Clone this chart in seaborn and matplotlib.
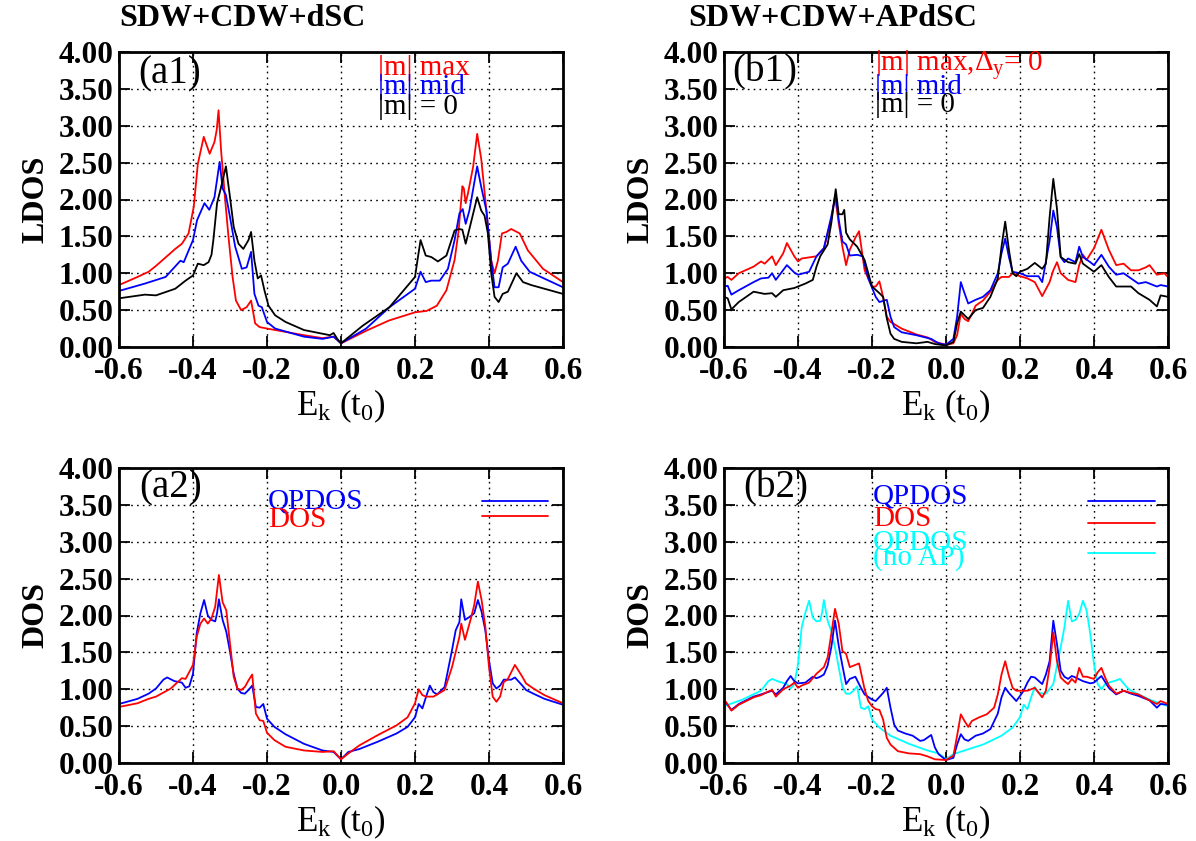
import numpy as np
import pandas as pd
import matplotlib
matplotlib.use("Agg")
import matplotlib.pyplot as plt
import seaborn as sns

# ---------------- data (E_k in t0, density of states) ----------------
a1_max = [(-0.6,0.84),(-0.55,0.95),(-0.52,1.02),(-0.5,1.10),(-0.448,1.33),(-0.43,1.40),(-0.412,1.54),
          (-0.398,1.90),(-0.387,2.48),(-0.371,2.85),(-0.355,2.62),(-0.342,2.78),(-0.336,2.94),(-0.331,3.21),
          (-0.324,2.66),(-0.313,1.99),(-0.304,1.49),(-0.293,0.95),(-0.284,0.63),(-0.27,0.50),(-0.255,0.54),
          (-0.243,0.63),(-0.232,0.32),(-0.22,0.27),(-0.2,0.25),(-0.1,0.16),(-0.05,0.12),(-0.02,0.14),
          (0.0,0.05),(0.068,0.22),(0.13,0.36),(0.2,0.47),(0.232,0.49),(0.259,0.56),(0.285,0.77),
          (0.307,1.18),(0.318,1.58),(0.328,2.18),(0.332,2.15),(0.337,1.95),(0.343,2.08),(0.357,2.44),
          (0.368,2.89),(0.379,2.55),(0.393,1.85),(0.406,1.17),(0.415,1.00),(0.424,1.17),(0.435,1.54),
          (0.447,1.56),(0.46,1.60),(0.483,1.54),(0.505,1.31),(0.546,1.06),(0.6,0.88)]
a1_mid = [(-0.6,0.76),(-0.53,0.86),(-0.474,0.95),(-0.434,1.17),(-0.425,1.15),(-0.40,1.45),(-0.389,1.72),
          (-0.369,1.95),(-0.356,1.86),(-0.342,2.03),(-0.328,2.51),(-0.32,2.15),(-0.311,2.06),(-0.30,1.76),
          (-0.286,1.36),(-0.268,1.06),(-0.255,1.08),(-0.243,1.29),(-0.234,0.72),(-0.223,0.56),(-0.214,0.54),
          (-0.2,0.34),(-0.178,0.25),(-0.1,0.14),(-0.05,0.11),(-0.02,0.14),(0.0,0.05),(0.068,0.25),
          (0.131,0.54),(0.2,0.79),(0.215,1.02),(0.229,0.88),(0.244,0.90),(0.267,0.90),(0.289,1.06),
          (0.307,1.45),(0.32,1.81),(0.329,1.87),(0.337,1.67),(0.347,1.85),(0.368,2.45),(0.379,2.17),
          (0.393,1.85),(0.406,1.17),(0.415,0.81),(0.426,0.81),(0.437,1.08),(0.451,1.13),(0.472,1.36),
          (0.487,1.17),(0.51,1.02),(0.6,0.81)]
a1_zero = [(-0.6,0.66),(-0.53,0.71),(-0.50,0.70),(-0.448,0.79),(-0.42,0.90),(-0.40,0.97),(-0.387,1.13),
           (-0.371,1.11),(-0.358,1.15),(-0.35,1.25),(-0.345,1.45),(-0.335,1.95),(-0.325,2.15),(-0.318,2.30),
           (-0.311,2.45),(-0.30,2.03),(-0.29,1.63),(-0.277,1.40),(-0.264,1.33),(-0.25,1.45),(-0.243,1.56),
           (-0.234,1.17),(-0.225,0.93),(-0.216,0.97),(-0.207,0.77),(-0.196,0.56),(-0.178,0.43),(-0.15,0.34),
           (-0.1,0.23),(-0.03,0.16),(-0.02,0.19),(-0.01,0.11),(0.0,0.05),(0.059,0.29),(0.131,0.54),
           (0.2,0.95),(0.208,1.22),(0.215,1.45),(0.229,1.24),(0.244,1.22),(0.262,1.16),(0.285,1.24),
           (0.307,1.58),(0.32,1.60),(0.328,1.59),(0.337,1.40),(0.347,1.60),(0.368,2.03),(0.379,1.85),
           (0.388,1.78),(0.397,1.54),(0.406,1.00),(0.415,0.68),(0.426,0.61),(0.437,0.72),(0.451,0.75),
           (0.474,1.00),(0.492,0.88),(0.514,0.84),(0.6,0.72)]

b1_max = [(-0.6,0.93),(-0.59,0.95),(-0.58,0.91),(-0.56,1.00),(-0.52,1.09),(-0.50,1.16),(-0.49,1.13),
          (-0.47,1.23),(-0.46,1.11),(-0.44,1.27),(-0.43,1.41),(-0.41,1.23),(-0.40,1.16),(-0.39,1.20),
          (-0.35,1.23),(-0.33,1.34),(-0.31,1.73),(-0.30,2.05),(-0.29,1.68),(-0.28,1.36),(-0.27,1.11),
          (-0.26,1.32),(-0.245,1.48),(-0.235,1.57),(-0.22,1.04),(-0.20,0.82),(-0.19,0.82),(-0.18,0.89),
          (-0.17,0.68),(-0.16,0.41),(-0.15,0.34),(-0.12,0.25),(-0.08,0.17),(-0.05,0.13),(-0.03,0.07),
          (0.0,0.03),(0.02,0.05),(0.03,0.16),(0.04,0.45),(0.05,0.38),(0.06,0.35),(0.07,0.45),(0.08,0.56),
          (0.10,0.63),(0.12,0.75),(0.14,0.91),(0.15,0.95),(0.17,0.95),(0.18,1.00),(0.20,0.96),(0.22,0.93),
          (0.24,0.88),(0.26,0.69),(0.28,0.88),(0.29,1.04),(0.30,1.15),(0.31,1.00),(0.33,0.91),(0.35,0.88),
          (0.36,1.11),(0.37,1.25),(0.38,1.18),(0.40,1.34),(0.42,1.59),(0.44,1.32),(0.46,1.11),(0.48,1.13),
          (0.50,1.04),(0.52,1.04),(0.54,1.08),(0.55,1.11),(0.57,0.98),(0.59,1.00),(0.6,0.95)]
b1_mid = [(-0.6,0.82),(-0.59,0.83),(-0.58,0.71),(-0.56,0.77),(-0.52,0.88),(-0.50,0.93),(-0.48,0.94),
          (-0.47,1.00),(-0.46,0.91),(-0.43,1.11),(-0.41,1.01),(-0.40,0.98),(-0.37,1.02),(-0.35,1.23),
          (-0.33,1.34),(-0.31,1.77),(-0.298,2.07),(-0.29,1.73),(-0.28,1.43),(-0.27,1.39),(-0.26,1.24),
          (-0.24,1.25),(-0.225,1.23),(-0.21,0.93),(-0.19,0.68),(-0.18,0.61),(-0.16,0.64),(-0.15,0.41),
          (-0.14,0.27),(-0.12,0.20),(-0.08,0.16),(-0.04,0.11),(-0.02,0.05),(0.0,0.03),(0.02,0.11),
          (0.03,0.41),(0.04,0.88),(0.05,0.73),(0.06,0.59),(0.08,0.64),(0.10,0.68),(0.12,0.77),(0.14,1.00),
          (0.15,1.27),(0.16,1.47),(0.17,1.22),(0.18,1.02),(0.20,1.00),(0.22,0.96),(0.25,0.96),(0.26,0.88),
          (0.28,1.44),(0.29,1.85),(0.30,1.62),(0.31,1.22),(0.32,1.15),(0.33,1.20),(0.35,1.15),(0.36,1.36),
          (0.37,1.22),(0.39,1.15),(0.40,1.11),(0.42,1.25),(0.44,1.09),(0.46,0.98),(0.48,1.00),(0.50,0.93),
          (0.52,0.86),(0.54,0.88),(0.57,0.82),(0.58,0.84),(0.6,0.82)]
b1_zero = [(-0.6,0.68),(-0.59,0.66),(-0.58,0.51),(-0.56,0.61),(-0.54,0.68),(-0.52,0.75),(-0.49,0.72),
           (-0.47,0.73),(-0.46,0.68),(-0.44,0.77),(-0.41,0.80),(-0.38,0.86),(-0.36,0.91),(-0.35,1.09),
           (-0.34,1.23),(-0.32,1.39),(-0.31,1.68),(-0.298,2.14),(-0.29,1.80),(-0.28,1.80),(-0.275,1.86),
           (-0.27,1.55),(-0.26,1.46),(-0.24,1.36),(-0.22,1.18),(-0.21,1.00),(-0.20,0.82),(-0.18,0.73),
           (-0.17,0.68),(-0.16,0.39),(-0.15,0.18),(-0.14,0.11),(-0.12,0.07),(-0.08,0.05),(-0.05,0.07),
           (-0.03,0.04),(0.0,0.02),(0.02,0.07),(0.03,0.32),(0.04,0.48),(0.05,0.43),(0.06,0.38),(0.08,0.50),
           (0.10,0.53),(0.12,0.68),(0.14,0.93),(0.15,1.36),(0.16,1.70),(0.17,1.32),(0.18,1.00),(0.19,0.96),
           (0.20,1.02),(0.22,1.06),(0.24,1.14),(0.26,1.06),(0.27,1.13),(0.28,1.76),(0.29,2.28),(0.30,1.87),
           (0.31,1.22),(0.33,1.15),(0.35,1.13),(0.36,1.26),(0.37,1.13),(0.40,1.02),(0.42,1.11),(0.44,0.95),
           (0.46,0.82),(0.50,0.82),(0.52,0.73),(0.55,0.64),(0.57,0.55),(0.58,0.70),(0.6,0.68)]

a2_qp = [(-0.6,0.80),(-0.55,0.87),(-0.52,0.94),(-0.5,1.01),(-0.48,1.13),(-0.47,1.16),(-0.45,1.11),
         (-0.43,1.09),(-0.42,1.02),(-0.41,1.04),(-0.40,1.21),(-0.39,1.76),(-0.38,2.03),(-0.37,2.21),
         (-0.36,2.00),(-0.35,1.94),(-0.34,1.92),(-0.335,2.03),(-0.33,2.22),(-0.32,1.94),(-0.31,1.78),
         (-0.30,1.51),(-0.29,1.21),(-0.28,1.01),(-0.27,0.95),(-0.26,0.94),(-0.25,0.99),(-0.24,1.05),
         (-0.23,0.76),(-0.22,0.75),(-0.21,0.80),(-0.20,0.60),(-0.18,0.49),(-0.15,0.39),(-0.1,0.26),
         (-0.05,0.17),(-0.02,0.15),(0.0,0.05),(0.02,0.15),(0.05,0.19),(0.1,0.29),(0.15,0.40),(0.18,0.49),
         (0.2,0.62),(0.21,0.80),(0.22,0.74),(0.23,0.90),(0.24,1.05),(0.25,0.96),(0.26,0.93),(0.28,1.03),
         (0.30,1.53),(0.31,1.80),(0.32,1.91),(0.325,2.22),(0.335,1.94),(0.35,1.99),(0.36,2.03),(0.37,2.21),
         (0.38,2.05),(0.39,1.80),(0.40,1.39),(0.41,1.08),(0.42,1.01),(0.43,1.05),(0.44,1.13),(0.46,1.13),
         (0.47,1.16),(0.49,1.05),(0.5,0.99),(0.52,0.94),(0.55,0.87),(0.6,0.79)]
a2_dos = [(-0.6,0.76),(-0.55,0.81),(-0.52,0.87),(-0.5,0.90),(-0.46,1.01),(-0.43,1.15),(-0.42,1.14),
          (-0.40,1.33),(-0.39,1.71),(-0.38,1.89),(-0.37,1.96),(-0.36,1.89),(-0.35,1.96),(-0.34,2.12),
          (-0.33,2.55),(-0.32,2.18),(-0.31,2.07),(-0.30,1.62),(-0.29,1.17),(-0.28,1.01),(-0.27,0.99),
          (-0.26,1.03),(-0.25,1.12),(-0.24,1.20),(-0.23,0.67),(-0.22,0.58),(-0.21,0.57),(-0.2,0.41),
          (-0.18,0.31),(-0.15,0.22),(-0.1,0.17),(-0.05,0.15),(-0.02,0.16),(0.0,0.05),(0.02,0.13),
          (0.05,0.24),(0.1,0.38),(0.15,0.51),(0.18,0.62),(0.2,0.81),(0.21,1.00),(0.22,0.92),(0.23,0.90),
          (0.25,0.90),(0.28,0.99),(0.30,1.30),(0.32,1.71),(0.325,1.89),(0.335,1.67),(0.35,1.94),(0.36,2.14),
          (0.37,2.46),(0.38,2.21),(0.39,1.85),(0.40,1.30),(0.41,0.90),(0.42,0.83),(0.43,0.90),(0.44,1.10),
          (0.45,1.13),(0.47,1.33),(0.49,1.17),(0.5,1.08),(0.52,1.01),(0.55,0.92),(0.6,0.81)]

b2_qp = [(-0.6,0.80),(-0.595,0.82),(-0.58,0.72),(-0.56,0.80),(-0.52,0.90),(-0.5,0.93),(-0.47,0.98),
         (-0.46,0.93),(-0.44,1.02),(-0.43,1.11),(-0.42,1.18),(-0.41,1.11),(-0.40,1.08),(-0.38,1.09),
         (-0.36,1.17),(-0.35,1.15),(-0.34,1.17),(-0.33,1.20),(-0.32,1.32),(-0.31,1.57),(-0.30,1.93),
         (-0.29,1.59),(-0.28,1.32),(-0.27,1.07),(-0.26,1.14),(-0.245,1.17),(-0.23,1.02),(-0.22,0.93),
         (-0.20,0.86),(-0.19,0.84),(-0.17,0.95),(-0.16,1.02),(-0.15,0.75),(-0.14,0.52),(-0.13,0.44),
         (-0.11,0.40),(-0.09,0.37),(-0.07,0.30),(-0.06,0.31),(-0.04,0.38),(-0.03,0.21),(-0.02,0.12),
         (0.0,0.04),(0.02,0.07),(0.03,0.25),(0.04,0.39),(0.05,0.32),(0.06,0.30),(0.08,0.37),(0.10,0.40),
         (0.12,0.46),(0.14,0.67),(0.15,0.89),(0.16,1.02),(0.17,0.95),(0.19,0.84),(0.21,0.98),(0.22,1.09),
         (0.23,1.17),(0.24,1.16),(0.26,1.07),(0.27,1.20),(0.28,1.38),(0.29,1.93),(0.30,1.61),(0.31,1.25),
         (0.32,1.17),(0.33,1.14),(0.34,1.18),(0.35,1.16),(0.37,1.11),(0.39,1.08),(0.40,1.09),(0.42,1.18),
         (0.44,1.02),(0.46,0.93),(0.48,0.98),(0.50,0.94),(0.52,0.91),(0.55,0.85),(0.57,0.75),(0.58,0.80),
         (0.6,0.79)]
b2_dos = [(-0.6,0.80),(-0.595,0.83),(-0.58,0.71),(-0.56,0.79),(-0.52,0.89),(-0.5,0.92),(-0.48,0.97),
          (-0.47,0.99),(-0.46,0.90),(-0.44,1.00),(-0.42,1.05),(-0.41,1.09),(-0.40,1.02),(-0.39,1.05),
          (-0.37,1.09),(-0.35,1.21),(-0.33,1.30),(-0.32,1.43),(-0.31,1.75),(-0.30,2.09),(-0.29,1.89),
          (-0.28,1.52),(-0.27,1.48),(-0.26,1.30),(-0.25,1.32),(-0.235,1.35),(-0.22,1.00),(-0.21,0.84),
          (-0.20,0.77),(-0.19,0.73),(-0.18,0.72),(-0.17,0.59),(-0.16,0.34),(-0.15,0.25),(-0.13,0.16),
          (-0.1,0.13),(-0.07,0.12),(-0.05,0.09),(-0.03,0.05),(0.0,0.04),(0.02,0.10),(0.03,0.37),
          (0.04,0.66),(0.05,0.57),(0.06,0.49),(0.07,0.57),(0.09,0.62),(0.11,0.66),(0.13,0.75),(0.14,0.93),
          (0.15,1.20),(0.16,1.38),(0.17,1.18),(0.18,1.02),(0.19,0.98),(0.22,0.98),(0.24,1.02),(0.26,0.89),
          (0.27,0.98),(0.28,1.30),(0.29,1.77),(0.30,1.38),(0.31,1.16),(0.32,1.11),(0.33,1.07),(0.34,1.14),
          (0.35,1.09),(0.36,1.29),(0.37,1.17),(0.38,1.17),(0.40,1.14),(0.41,1.23),(0.42,1.29),(0.43,1.16),
          (0.44,1.05),(0.46,0.94),(0.48,0.98),(0.50,0.95),(0.52,0.93),(0.55,0.85),(0.57,0.80),(0.58,0.84),
          (0.59,0.82),(0.6,0.80)]
b2_noap = [(-0.6,0.77),(-0.55,0.86),(-0.5,0.98),(-0.48,1.11),(-0.47,1.14),(-0.45,1.10),(-0.43,1.07),
           (-0.42,1.01),(-0.41,1.07),(-0.40,1.34),(-0.39,1.84),(-0.38,2.04),(-0.37,2.20),(-0.36,1.97),
           (-0.35,1.92),(-0.34,1.93),(-0.335,2.04),(-0.33,2.21),(-0.32,1.93),(-0.31,1.79),(-0.30,1.57),
           (-0.29,1.30),(-0.28,1.03),(-0.27,0.94),(-0.26,0.94),(-0.25,0.98),(-0.24,1.04),(-0.23,0.75),
           (-0.22,0.73),(-0.21,0.77),(-0.2,0.59),(-0.18,0.48),(-0.15,0.37),(-0.1,0.26),(-0.05,0.17),
           (-0.02,0.13),(0.0,0.05),(0.02,0.12),(0.05,0.17),(0.1,0.25),(0.15,0.37),(0.18,0.48),(0.2,0.62),
           (0.21,0.79),(0.22,0.73),(0.23,0.89),(0.24,1.03),(0.25,0.95),(0.27,0.94),(0.29,1.07),(0.31,1.57),
           (0.32,1.84),(0.33,2.20),(0.34,1.92),(0.35,1.94),(0.36,2.02),(0.37,2.20),(0.38,2.07),(0.39,1.75),
           (0.40,1.34),(0.41,1.07),(0.42,1.00),(0.43,1.07),(0.44,1.09),(0.46,1.12),(0.47,1.14),(0.49,1.02),
           (0.5,0.98),(0.55,0.86),(0.6,0.77)]

x_ticks = [-0.6, -0.4, -0.2, 0.0, 0.2, 0.4, 0.6]
x_tick_labels = ["-0.6", "-0.4", "-0.2", "0.0", "0.2", "0.4", "0.6"]
y_ticks = [0.0, 0.5, 1.0, 1.5, 2.0, 2.5, 3.0, 3.5, 4.0]
y_tick_labels = ["0.00", "0.50", "1.00", "1.50", "2.00", "2.50", "3.00", "3.50", "4.00"]

RED, BLUE, BLACK, CYAN = "#ff0000", "#0000ff", "#000000", "#00ffff"

# ---------------- style ----------------
sns.set_theme(style="ticks")
plt.rcParams["font.family"] = ["Liberation Serif", "DejaVu Serif"]
plt.rcParams["mathtext.fontset"] = "custom"
plt.rcParams["mathtext.rm"] = "Liberation Serif"
plt.rcParams["mathtext.it"] = "Liberation Serif:italic"
plt.rcParams["mathtext.bf"] = "Liberation Serif:bold"
plt.rcParams["text.color"] = "black"
plt.rcParams["axes.labelcolor"] = "black"
plt.rcParams["xtick.color"] = "black"
plt.rcParams["ytick.color"] = "black"

fig = plt.figure(figsize=(11.96, 8.41), dpi=100)
W, H = 1196.0, 841.0
def box(l, r, t, b):
    return [l / W, 1 - b / H, (r - l) / W, (b - t) / H]

ax_a1 = fig.add_axes(box(119, 563, 52, 347))
ax_b1 = fig.add_axes(box(724, 1168, 52, 347))
ax_a2 = fig.add_axes(box(119, 563, 468, 763))
ax_b2 = fig.add_axes(box(724, 1168, 468, 763))

def draw(ax, pairs, color):
    df = pd.DataFrame(pairs, columns=["E", "v"])
    sns.lineplot(data=df, x="E", y="v", ax=ax, color=color, lw=1.3,
                 estimator=None, sort=False)

TICK_FS = 22.5
def style(ax, ylabel):
    ax.set_xlim(-0.6, 0.6)
    ax.set_ylim(0, 4)
    ax.set_xticks(x_ticks)
    ax.set_xticklabels(x_tick_labels, fontsize=TICK_FS, fontweight="bold", color="black")
    ax.set_yticks(y_ticks)
    ax.set_yticklabels(y_tick_labels, fontsize=TICK_FS, fontweight="bold", color="black")
    ax.tick_params(direction="in", top=True, right=True, length=8, width=1.3,
                   colors="black")
    ax.tick_params(axis="x", pad=7)
    ax.tick_params(axis="y", pad=4)
    ax.grid(True, color="black", linestyle=(0, (1.2, 3.0)), lw=1.0)
    ax.set_axisbelow(True)
    for s in ax.spines.values():
        s.set_linewidth(2.0)
        s.set_color("black")
    ax.set_facecolor("white")
    ax.set_xlabel(r"E$_{\mathrm{k}}$ (t$_{0}$)", fontsize=25, color="black")
    ax.set_ylabel(ylabel, fontsize=23, fontweight="bold", color="black")
    ax.xaxis.label.set_va("center")
    ax.yaxis.label.set_va("center")
    ax.xaxis.set_label_coords(0.5, -0.2)
    ax.yaxis.set_label_coords(-0.187, 0.5)

draw(ax_a1, a1_max, RED)
draw(ax_a1, a1_mid, BLUE)
draw(ax_a1, a1_zero, BLACK)
style(ax_a1, "LDOS")

draw(ax_b1, b1_max, RED)
draw(ax_b1, b1_mid, BLUE)
draw(ax_b1, b1_zero, BLACK)
style(ax_b1, "LDOS")

draw(ax_a2, a2_qp, BLUE)
draw(ax_a2, a2_dos, RED)
style(ax_a2, "DOS")

draw(ax_b2, b2_noap, CYAN)
draw(ax_b2, b2_qp, BLUE)
draw(ax_b2, b2_dos, RED)
style(ax_b2, "DOS")

# panel labels
for ax, lab, x, y in [(ax_a1, "(a1)", 0.043, 0.925), (ax_b1, "(b1)", 0.018, 0.932),
                      (ax_a2, "(a2)", 0.045, 0.932), (ax_b2, "(b2)", 0.043, 0.932)]:
    ax.text(x, y, lab, transform=ax.transAxes, fontsize=28, ha="left", va="center", color="black")

# legend texts (gnuplot style)
lt = 21
ax_a1.text(0.583, 0.946, "|m| max", color=RED, fontsize=lt, transform=ax_a1.transAxes, va="center")
ax_a1.text(0.583, 0.881, "|m| mid", color=BLUE, fontsize=lt, transform=ax_a1.transAxes, va="center")
ax_a1.text(0.583, 0.814, "|m| = 0", color=BLACK, fontsize=lt, transform=ax_a1.transAxes, va="center")

ax_b1.text(0.340, 0.956, r"|m| max,$\Delta_{\mathrm{y}}$= 0", color=RED, fontsize=lt,
           transform=ax_b1.transAxes, va="center")
ax_b1.text(0.340, 0.881, "|m| mid", color=BLUE, fontsize=lt, transform=ax_b1.transAxes, va="center")
ax_b1.text(0.340, 0.820, "|m| = 0", color=BLACK, fontsize=lt, transform=ax_b1.transAxes, va="center")

ax_a2.text(0.336, 0.885, "QPDOS", color=BLUE, fontsize=lt, transform=ax_a2.transAxes, va="center")
ax_a2.text(0.336, 0.824, "DOS", color=RED, fontsize=lt, transform=ax_a2.transAxes, va="center")
ax_a2.plot([0.818, 0.966], [0.889, 0.889], color=BLUE, lw=1.3, transform=ax_a2.transAxes)
ax_a2.plot([0.818, 0.966], [0.837, 0.837], color=RED, lw=1.3, transform=ax_a2.transAxes)

ax_b2.text(0.336, 0.902, "QPDOS", color=BLUE, fontsize=lt, transform=ax_b2.transAxes, va="center")
ax_b2.text(0.336, 0.827, "DOS", color=RED, fontsize=lt, transform=ax_b2.transAxes, va="center")
ax_b2.text(0.336, 0.749, "QPDOS", color=CYAN, fontsize=lt, transform=ax_b2.transAxes, va="center")
ax_b2.text(0.336, 0.695, "(no AP)", color=CYAN, fontsize=lt, transform=ax_b2.transAxes, va="center")
ax_b2.plot([0.820, 0.971], [0.889, 0.889], color=BLUE, lw=1.3, transform=ax_b2.transAxes)
ax_b2.plot([0.820, 0.971], [0.814, 0.814], color=RED, lw=1.3, transform=ax_b2.transAxes)
ax_b2.plot([0.820, 0.971], [0.713, 0.713], color=CYAN, lw=1.3, transform=ax_b2.transAxes)

# titles
fig.text(119 / W, 1 - 18 / H, "SDW+CDW+dSC", fontsize=23, fontweight="bold", ha="left", va="center",
         color="black")
fig.text(688 / W, 1 - 18 / H, "SDW+CDW+APdSC", fontsize=23, fontweight="bold", ha="left", va="center",
         color="black")

fig.savefig("out.png", dpi=100, facecolor="white")
